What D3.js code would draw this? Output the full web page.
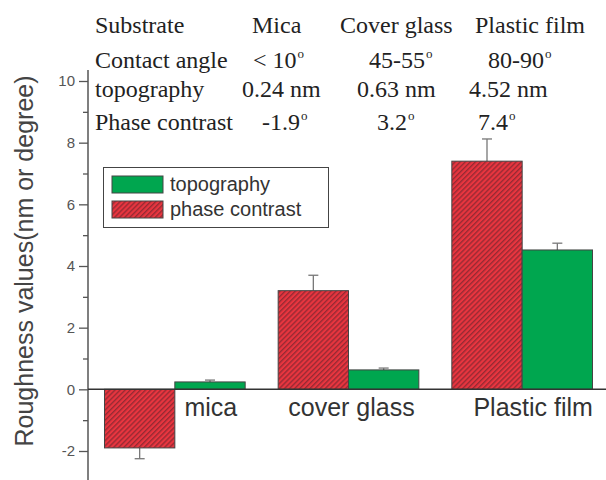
<!DOCTYPE html>
<html>
<head>
<meta charset="utf-8">
<script src="https://cdn.jsdelivr.net/npm/d3@7"></script>
<style>
  body { margin: 0; background: #fff; }
  svg { display: block; }
</style>
</head>
<body>
<div id="chart"></div>
<script>
// data
var categories = ["mica", "cover glass", "Plastic film"];
var seriesNames = ["phase contrast", "topography"];
var phaseValues = [-1.9, 3.2, 7.4];
var phaseErrors = [0.35, 0.5, 0.72];
var topoValues = [0.24, 0.63, 4.52];
var topoErrors = [0.06, 0.06, 0.22];
var yTicks = [-2, 0, 2, 4, 6, 8, 10];
var yMinorTicks = [-1, 1, 3, 5, 7, 9];

// the little table on top
var rowLabels = ["Substrate", "Contact angle", "topography", "Phase contrast"];
var substrates = ["Mica", "Cover glass", "Plastic film"];
var contactAngles = ["< 10°", "45-55°", "80-90°"];
var topoText = ["0.24 nm", "0.63 nm", "4.52 nm"];
var phaseText = ["-1.9°", "3.2°", "7.4°"];

var width = 606, height = 480;
var red = "#e8353f", green = "#00a64f", hatch = "#7c2530";

var svg = d3.select("#chart").append("svg")
  .attr("width", width).attr("height", height);

var defs = svg.append("defs");
var pat = defs.append("pattern")
  .attr("id", "hatch")
  .attr("patternUnits", "userSpaceOnUse")
  .attr("width", 3.6).attr("height", 3.6)
  .attr("patternTransform", "rotate(45)");
pat.append("rect").attr("width", 3.6).attr("height", 3.6).attr("fill", red);
pat.append("line")
  .attr("x1", 0.7).attr("y1", 0).attr("x2", 0.7).attr("y2", 3.6)
  .attr("stroke", hatch).attr("stroke-width", 1.3).attr("stroke-opacity", 0.8);

var y = d3.scaleLinear().domain([-2, 10]).range([451, 81]);
var x = d3.scaleBand().domain(categories).range([88, 609])
  .paddingInner(0.19).paddingOuter(0.095);
var xs = d3.scaleBand().domain(seriesNames).range([0, x.bandwidth()]);

// y axis
var axisColor = "#555";
svg.append("line")
  .attr("x1", 88).attr("x2", 88).attr("y1", 70).attr("y2", 480)
  .attr("stroke", axisColor).attr("stroke-width", 1.5);

var gy = svg.append("g").attr("transform", "translate(88,0)")
  .call(d3.axisLeft(y).tickValues(yTicks).tickSize(9).tickPadding(4)
    .tickFormat(function(d) { return String(d); }));
gy.select(".domain").remove();
gy.selectAll(".tick line").attr("stroke", axisColor).attr("stroke-width", 1.3);
gy.selectAll(".tick text").attr("fill", "#555")
  .style("font-family", "Liberation Sans, Arial, sans-serif").style("font-size", "15px");

var gm = svg.append("g").attr("transform", "translate(88,0)")
  .call(d3.axisLeft(y).tickValues(yMinorTicks).tickSize(5).tickFormat(""));
gm.select(".domain").remove();
gm.selectAll(".tick line").attr("stroke", axisColor).attr("stroke-width", 1.3);

svg.append("text")
  .attr("transform", "translate(33,261) rotate(-90)")
  .attr("text-anchor", "middle")
  .attr("fill", "#444")
  .style("font-family", "Liberation Sans, Arial, sans-serif")
  .style("font-size", "25px")
  .text("Roughness values(nm or degree)");

// bars
var rows = categories.map(function(c, i) {
  return [
    { cat: c, key: "phase contrast", v: phaseValues[i], e: phaseErrors[i] },
    { cat: c, key: "topography", v: topoValues[i], e: topoErrors[i] }
  ];
});
var bars = [].concat.apply([], rows);

function cx(d) { return x(d.cat) + xs(d.key) + xs.bandwidth() / 2; }
function errEnd(d) { return y(d.v + (d.v < 0 ? -d.e : d.e)); }

var errColor = "#777";
svg.append("g").selectAll("line.err")
  .data(bars).enter().append("line")
  .attr("class", "err")
  .attr("x1", cx).attr("x2", cx)
  .attr("y1", function(d) { return y(d.v); })
  .attr("y2", errEnd)
  .attr("stroke", errColor).attr("stroke-width", 1.3);
svg.append("g").selectAll("line.cap")
  .data(bars).enter().append("line")
  .attr("class", "cap")
  .attr("x1", function(d) { return cx(d) - 5; })
  .attr("x2", function(d) { return cx(d) + 5; })
  .attr("y1", errEnd).attr("y2", errEnd)
  .attr("stroke", errColor).attr("stroke-width", 1.3);

svg.append("g").selectAll("rect")
  .data(bars).enter().append("rect")
  .attr("x", function(d) { return x(d.cat) + xs(d.key); })
  .attr("width", xs.bandwidth())
  .attr("y", function(d) { return y(Math.max(0, d.v)); })
  .attr("height", function(d) { return Math.abs(y(d.v) - y(0)); })
  .attr("fill", function(d) { return d.key == "topography" ? green : "url(#hatch)"; })
  .attr("stroke", "#444").attr("stroke-width", 1);

// zero line
svg.append("line")
  .attr("x1", 88).attr("x2", width).attr("y1", y(0)).attr("y2", y(0))
  .attr("stroke", "#333").attr("stroke-width", 1.5);

// category labels under the zero line
var labelDx = [36, 3, 11];
svg.append("g").selectAll("text")
  .data(categories).enter().append("text")
  .attr("x", function(d, i) { return x(d) + x.bandwidth() / 2 + labelDx[i]; })
  .attr("y", 416)
  .attr("text-anchor", "middle")
  .attr("fill", "#333")
  .style("font-family", "Liberation Sans, Arial, sans-serif")
  .style("font-size", "25px")
  .text(function(d) { return d; });

// legend
var legend = svg.append("g");
legend.append("rect")
  .attr("x", 103.5).attr("y", 167.5).attr("width", 225).attr("height", 60)
  .attr("fill", "#fff").attr("stroke", "#444").attr("stroke-width", 1);
var legendItems = [
  { name: "topography", fill: green },
  { name: "phase contrast", fill: "url(#hatch)" }
];
legendItems.forEach(function(it, i) {
  legend.append("rect")
    .attr("x", 112).attr("y", 176 + i * 25).attr("width", 51).attr("height", 17)
    .attr("fill", it.fill).attr("stroke", "#444").attr("stroke-width", 1);
  legend.append("text")
    .attr("x", 170).attr("y", 191 + i * 25)
    .attr("fill", "#333")
    .style("font-family", "Liberation Sans, Arial, sans-serif")
    .style("font-size", "20px")
    .text(it.name);
});

// table at the top
var tableCells = [substrates, contactAngles, topoText, phaseText];
var rowY = [33, 68, 97, 130];
var cellX = [
  [252, 340, 475],
  [253, 369, 488],
  [242, 357, 469],
  [262, 377, 478]
];
var table = svg.append("g")
  .style("font-family", "Liberation Serif, Times New Roman, serif")
  .style("font-size", "24px")
  .attr("fill", "#222");

function addCell(str, px, py) {
  var t = table.append("text").attr("x", px).attr("y", py);
  var parts = str.split("°");
  t.append("tspan").text(parts[0]);
  if (parts.length > 1) {
    t.append("tspan").attr("dx", 1).attr("dy", -10).style("font-size", "13px").text("o");
  }
}
rowLabels.forEach(function(r, i) {
  addCell(r, 95, rowY[i]);
  tableCells[i].forEach(function(c, j) { addCell(c, cellX[i][j], rowY[i]); });
});
</script>
</body>
</html>
